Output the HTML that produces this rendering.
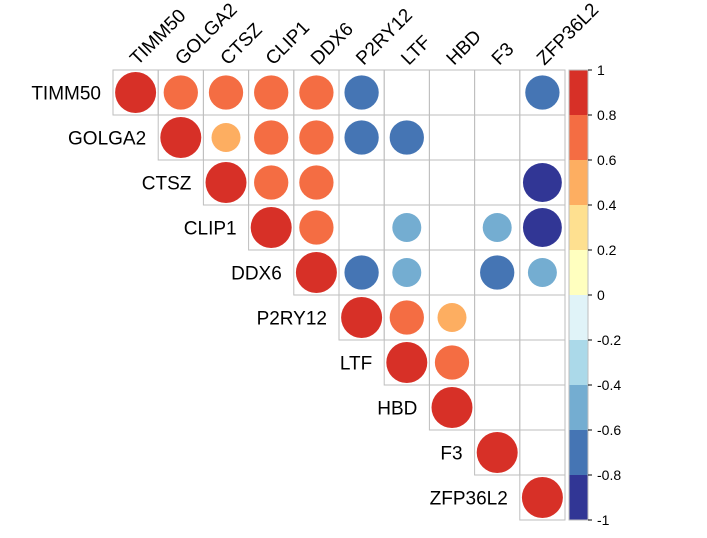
<!DOCTYPE html>
<html><head><meta charset="utf-8"><style>
body{margin:0;background:#fff;}
svg text{font-family:"Liberation Sans",sans-serif;fill:#000;}
</style></head><body>
<svg id="chart" width="707" height="533"></svg>
<script>
const labels=["TIMM50","GOLGA2","CTSZ","CLIP1","DDX6","P2RY12","LTF","HBD","F3","ZFP36L2"];
const corrRows=[
[1,0.7,0.7,0.7,0.7,-0.7,0,0,0,-0.7],
[0,1,0.5,0.7,0.7,-0.7,-0.7,0,0,0],
[0,0,1,0.7,0.7,0,0,0,0,-0.9],
[0,0,0,1,0.7,0,-0.5,0,-0.5,-0.9],
[0,0,0,0,1,-0.7,-0.5,0,-0.7,-0.5],
[0,0,0,0,0,1,0.7,0.5,0,0],
[0,0,0,0,0,0,1,0.7,0,0],
[0,0,0,0,0,0,0,1,0,0],
[0,0,0,0,0,0,0,0,1,0],
[0,0,0,0,0,0,0,0,0,1]];
const palette=["#313695","#4575B4","#74ADD1","#ABD9E9","#E0F3F8","#FFFFBF","#FEE090","#FDAE61","#F46D43","#D73027"];
const barTicks=["1","0.8","0.6","0.4","0.2","0","-0.2","-0.4","-0.6","-0.8","-1"];
const NS="http://www.w3.org/2000/svg";
const svg=document.getElementById('chart');
const x0=113,y0=70,cw=45.2,ch=45;
function mk(t,a){const e=document.createElementNS(NS,t);for(const k in a)e.setAttribute(k,a[k]);svg.appendChild(e);return e;}
function colorOf(v){let i=Math.floor((v+1)/0.2);if(i>9)i=9;if(i<0)i=0;return palette[i];}
for(let i=0;i<10;i++){for(let j=i;j<10;j++){
 const r=mk('rect',{x:x0+j*cw,y:y0+i*ch,width:cw,height:ch,fill:'none',stroke:'#bebebe','stroke-width':1});
 
 
 const v=corrRows[i][j];
 if(v!==0){
  const c=mk('circle',{cx:x0+(j+0.5)*cw,cy:y0+(i+0.5)*ch,r:Math.sqrt(Math.abs(v))*20.5,fill:colorOf(v)});
  
  
 }
}}
labels.forEach((l,i)=>{
 const t=mk('text',{x:x0+i*cw-12,y:y0+(i+0.5)*ch+7,'text-anchor':'end','font-size':19});
 t.textContent=l;
 
 
 const cx=x0+(i+0.5)*cw+2,cy=66;
 const u=mk('text',{x:cx,y:cy,'font-size':19,transform:`rotate(-45 ${cx} ${cy})`});
 u.textContent=l;
 
 
});
const bx=569,bw=19;
for(let k=0;k<10;k++){
 const r=mk('rect',{x:bx,y:y0+k*ch,width:bw,height:ch,fill:palette[9-k]});
 
 
}
const ob=mk('rect',{x:bx,y:y0,width:bw,height:450,fill:'none',stroke:'#bebebe'});


barTicks.forEach((s,k)=>{
 const y=y0+k*ch;
 const tk=mk('line',{x1:bx+bw,x2:bx+bw+4,y1:y,y2:y,stroke:'#000'});
 
 
 const t=mk('text',{x:bx+bw+9,y:y+5,'font-size':14});
 t.textContent=s;
 
 
});
</script>
</body></html>
